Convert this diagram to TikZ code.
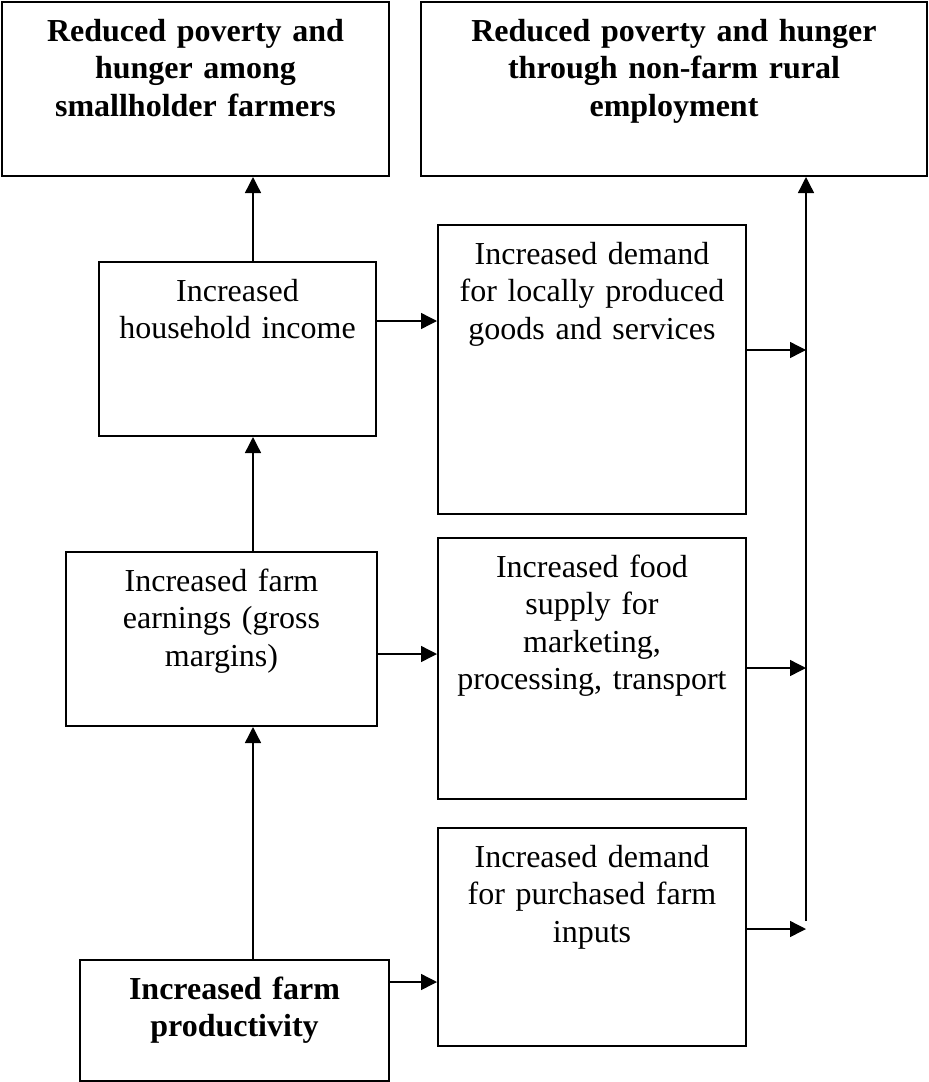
\documentclass[tikz,border=0pt]{standalone}
\usepackage{fontspec}
\setmainfont{Liberation Serif}
\usetikzlibrary{arrows.meta, positioning}
\tikzset{
	boxnode/.style={
			rectangle,
			draw=black,
			line width=1pt,
			inner sep=0pt
		},
	boxtext/.style={
			text width=230pt,
			align=center,
			inner sep=0pt,
			anchor=base,
			font=\fontsize{16}{18.75}\selectfont
		},
	boldtext/.style={
			boxtext,
			font=\fontsize{16}{18.75}\selectfont\bfseries
		},
	arrowline/.style={
			line width=0.7pt,
			-{Triangle[length=8pt, width=8pt]}
		}
}

\begin{document}
\begin{tikzpicture}[x=0.5pt, y=-0.5pt]
\useasboundingbox (0,0) rectangle (929,1082);

\node[boxnode, minimum width=193.5pt, minimum height=87pt] (goalA) at (195.5,89) {};
\node[boxnode, minimum width=253pt, minimum height=87pt] (goalB) at (674,89) {};
\node[boxnode, minimum width=138.5pt, minimum height=87pt] (income) at (237.5,349) {};
\node[boxnode, minimum width=154pt, minimum height=144.5pt] (local) at (592,369.5) {};
\node[boxnode, minimum width=155.5pt, minimum height=87pt] (earn) at (221.5,639) {};
\node[boxnode, minimum width=154pt, minimum height=130.5pt] (food) at (592,668.5) {};
\node[boxnode, minimum width=154pt, minimum height=109pt] (inputs) at (592,937) {};
\node[boxnode, minimum width=154.5pt, minimum height=60.5pt] (prod) at (234.5,1020.5) {};

\node[boldtext] (goalAtext) at ([yshift=-20pt]goalA.north) {Reduced poverty and\\hunger among\\smallholder farmers};
\node[boldtext] (goalBtext) at ([yshift=-20pt]goalB.north) {Reduced poverty and hunger\\through non-farm rural\\employment};
\node[boxtext] (incometext) at ([yshift=-20pt]income.north) {Increased\\household income};
\node[boxtext] (localtext) at ([yshift=-20pt]local.north) {Increased demand\\for locally produced\\goods and services};
\node[boxtext] (earntext) at ([yshift=-20pt]earn.north) {Increased farm\\earnings (gross\\margins)};
\node[boxtext] (foodtext) at ([yshift=-20pt]food.north) {Increased food\\supply for\\marketing,\\processing, transport};
\node[boxtext] (inputstext) at ([yshift=-20pt]inputs.north) {Increased demand\\for purchased farm\\inputs};
\node[boldtext] (prodtext) at ([yshift=-20pt]prod.north) {Increased farm\\productivity};

\coordinate (stem) at (253,0);
\coordinate (spine) at (806,921);

\draw[arrowline] (prod.north -| stem) -- (earn.south -| stem);
\draw[arrowline] (earn.north -| stem) -- (income.south -| stem);
\draw[arrowline] (income.north -| stem) -- (goalA.south -| stem);

\draw[arrowline] (income.east |- 0,321) -- (local.west |- 0,321);
\draw[arrowline] (earn.east |- 0,654) -- (food.west |- 0,654);
\draw[arrowline] (prod.east |- 0,982) -- (inputs.west |- 0,982);

\draw[arrowline] (local.east |- 0,350) -- (spine |- 0,350);
\draw[arrowline] (food.east |- 0,668) -- (spine |- 0,668);
\draw[arrowline] (inputs.east |- 0,929) -- (spine |- 0,929);
\draw[arrowline] (spine) -- (goalB.south -| spine);

\end{tikzpicture}
\end{document}
